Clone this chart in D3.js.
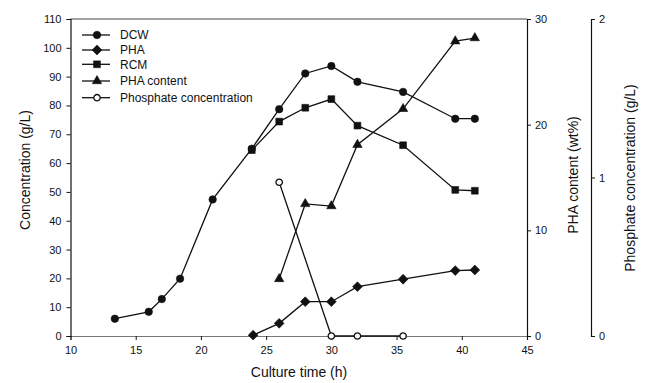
<!DOCTYPE html>
<html><head><meta charset="utf-8">
<script src="https://cdn.jsdelivr.net/npm/d3@7"></script>
<style>body{margin:0;background:#fff}svg{display:block;font-family:"Liberation Sans",Arial,sans-serif}</style>
</head><body><svg id="c" width="648" height="383"></svg>
<script>
const xTicks = [10,15,20,25,30,35,40,45];
const yLeftTicks = [0,10,20,30,40,50,60,70,80,90,100,110];
const yContentTicks = [0,10,20,30];
const yPhosTicks = [0,1,2];

const dcwTime = [13.4,16,17,18.4,20.9,23.9,26,28,30,32,35.5,39.5,41];
const dcw = [6,8.4,12.8,19.9,47.4,65,78.7,91.1,93.7,88.2,84.7,75.4,75.4];
const rcmTime = [23.9,26,28,30,32,35.5,39.5,41];
const rcm = [64.5,74.4,79.2,82.2,73,66.2,50.7,50.4];
const phaTime = [24,26,28,30,32,35.5,39.5,41];
const pha = [0.3,4.4,11.9,11.9,17.1,19.7,22.7,22.9];
const contentTime = [26,28,30,32,35.5,39.5,41];
const phaContent = [5.4,12.5,12.3,18.1,21.5,27.9,28.2];
const phosTime = [26,30,32,35.5];
const phosphate = [0.97,0,0,0];

const legendLabels = ["DCW","PHA","RCM","PHA content","Phosphate concentration"];

const svg = d3.select("#c");
const L=70.5, R=527, T=19, B=336, P2=591;
const x = d3.scaleLinear().domain([10,45]).range([L,R]);
const yL = d3.scaleLinear().domain([0,110]).range([B,T]);
const yC = d3.scaleLinear().domain([0,30]).range([B,T]);
const yP = d3.scaleLinear().domain([0,2]).range([B,T]);

// frame top
svg.append("line").attr("x1",L).attr("x2",R).attr("y1",T).attr("y2",T).attr("stroke","#444").attr("stroke-width",1.2);

const fmt = d=>d;
const gx = svg.append("g").attr("transform",`translate(0,${B})`).call(d3.axisBottom(x).tickValues(xTicks).tickSize(4).tickFormat(fmt));
const gl = svg.append("g").attr("transform",`translate(${L},0)`).call(d3.axisLeft(yL).tickValues(yLeftTicks).tickSize(4).tickFormat(fmt));
const gr = svg.append("g").attr("transform",`translate(${R},0)`).call(d3.axisRight(yC).tickValues(yContentTicks).tickSize(4).tickFormat(fmt));
const gp = svg.append("g").attr("transform",`translate(${P2},0)`).call(d3.axisRight(yP).tickValues(yPhosTicks).tickSize(4).tickFormat(fmt));
[gx,gl,gr,gp].forEach(g=>{
  g.select(".domain").attr("stroke","#111").attr("stroke-width",1.2);
  g.selectAll(".tick line").attr("stroke","#111");
  g.selectAll(".tick text").attr("font-size",11).attr("fill","#111").attr("font-family","Liberation Sans, Arial, sans-serif");
});
gx.select(".domain").attr("stroke","#777");
gx.selectAll(".tick text").attr("dy","1em");
gl.selectAll(".tick text").attr("x",-9);
gr.selectAll(".tick text").attr("x",8);
gp.selectAll(".tick text").attr("x",8);

// axis titles
svg.append("text").attr("x",299).attr("y",377).attr("text-anchor","middle").attr("font-size",14).attr("fill","#111").text("Culture time (h)");
svg.append("text").attr("transform",`translate(30,170) rotate(-90)`).attr("text-anchor","middle").attr("font-size",14).attr("fill","#111").text("Concentration (g/L)");
svg.append("text").attr("transform",`translate(578,175) rotate(-90)`).attr("text-anchor","middle").attr("font-size",14).attr("fill","#111").text("PHA content (wt%)");
svg.append("text").attr("transform",`translate(635,178) rotate(-90)`).attr("text-anchor","middle").attr("font-size",14).attr("fill","#111").text("Phosphate concentration (g/L)");

function series(tx, vals, ys, sym, size, open){
  const pts = tx.map((t,i)=>[x(t), ys(vals[i])]);
  svg.append("path").attr("d", d3.line()(pts)).attr("fill","none").attr("stroke","#111").attr("stroke-width",1.3);
  svg.selectAll(null).data(pts).enter().append("path")
    .attr("transform",d=>`translate(${d[0]},${d[1]})`)
    .attr("d", d3.symbol().type(sym).size(size))
    .attr("fill", open?"#fff":"#111").attr("stroke","#111").attr("stroke-width",open?1.3:0.6);
}
const diamond = {draw(ctx,size){const r=Math.sqrt(size/2);ctx.moveTo(0,-r);ctx.lineTo(r,0);ctx.lineTo(0,r);ctx.lineTo(-r,0);ctx.closePath();}};
const symDefs = [
  [d3.symbolCircle,44,false],
  [diamond,48,false],
  [d3.symbolSquare,46,false],
  [d3.symbolTriangle,38,false],
  [d3.symbolCircle,32,true]
];
series(phosTime, phosphate, yP, ...symDefs[4]);
series(contentTime, phaContent, yC, ...symDefs[3]);
series(phaTime, pha, yL, ...symDefs[1]);
series(rcmTime, rcm, yL, ...symDefs[2]);
series(dcwTime, dcw, yL, ...symDefs[0]);

// legend
const legY = [35,50,64.3,81,97.7];
legendLabels.forEach((lab,i)=>{
  const g = svg.append("g").attr("transform",`translate(0,${legY[i]})`);
  g.append("line").attr("x1",82).attr("x2",110).attr("stroke","#111").attr("stroke-width",1.3);
  g.append("path").attr("transform","translate(97,0)").attr("d",d3.symbol().type(symDefs[i][0]).size(symDefs[i][1]))
    .attr("fill",symDefs[i][2]?"#fff":"#111").attr("stroke","#111").attr("stroke-width",symDefs[i][2]?1.3:0.6);
  g.append("text").attr("x",120).attr("y",4.2).attr("font-size",12).attr("fill","#111").text(lab);
});
</script></body></html>
